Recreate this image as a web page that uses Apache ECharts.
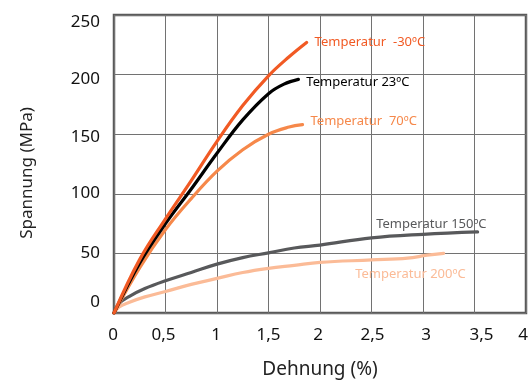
<!DOCTYPE html>
<html>
<head>
<meta charset="utf-8">
<script src="https://cdn.jsdelivr.net/npm/echarts@6/dist/echarts.min.js"></script>
<style>
  html, body { margin: 0; padding: 0; background: #ffffff; }
  #chart { width: 532px; height: 383px; }
</style>
</head>
<body>
<div id="chart"></div>
<script>
// Stress-strain curves of the material at different temperatures
// each point: [Dehnung in %, Spannung in MPa]
const seriesNames = ['Temperatur  -30ºC', 'Temperatur 23ºC', 'Temperatur  70ºC', 'Temperatur 150ºC', 'Temperatur 200ºC'];

const tempMinus30 = [[0, 0], [0.25, 45], [0.5, 79], [0.75, 111], [1.0, 144], [1.25, 174], [1.5, 199], [1.7, 215], [1.87, 227]];
const temp23 = [[0, 0], [0.25, 42], [0.5, 75], [0.75, 104], [1.0, 134], [1.25, 162], [1.5, 184], [1.65, 192], [1.79, 196]];
const temp70 = [[0, 0], [0.25, 38], [0.5, 70], [0.75, 96], [1.0, 119], [1.25, 137], [1.5, 150], [1.7, 156], [1.83, 158]];
const temp150 = [[0, 0], [0.05, 8], [0.15, 14], [0.3, 20.5], [0.5, 27], [0.75, 34], [1.0, 41], [1.25, 46.5], [1.5, 50.5], [1.75, 54.5], [2.0, 57], [2.5, 63], [3.0, 66], [3.53, 68]];
const temp200 = [[0, 0], [0.05, 5], [0.15, 9], [0.3, 13.5], [0.5, 18], [0.75, 24], [1.0, 29], [1.25, 34], [1.5, 37.5], [1.75, 40], [2.0, 42.5], [2.5, 44.5], [2.85, 46], [3.04, 48.5], [3.2, 50]];

// tick values and their printed labels
const xTickValues = [0, 0.5, 1, 1.5, 2, 2.5, 3, 3.5, 4];
const xTickLabels = ['0', '0,5', '1', '1,5', '2', '2,5', '3', '3,5', '4'];
const yTickValues = [0, 50, 100, 150, 200, 250];
const yTickLabels = ['0', '50', '100', '150', '200', '250'];

const colors = ['#f15a24', '#000000', '#f6884a', '#58595b', '#fbbb97'];
const curves = [tempMinus30, temp23, temp70, temp150, temp200];

// where each curve's name sits relative to its end point
const labelPlacement = [
  { align: 'left', offset: [3, 0] },
  { align: 'left', offset: [3, 3] },
  { align: 'left', offset: [3, -3] },
  { align: 'right', offset: [4, -8] },
  { align: 'right', offset: [17, 21] }
];

// small hand nudges of individual tick labels (px)
const yLabelShift = [-11, 0, -1, 3, 5, 7];
const xLabelShift = [-1, -2, -1, 0, -2, 1, 3, 7, -3];

const FONT = 'Noto Sans';
const GRID = { left: 114, right: 6, top: 15, bottom: 70 };

const chart = echarts.init(document.getElementById('chart'), null, { renderer: 'canvas' });

const baseOption = {
  animation: false,
  backgroundColor: '#ffffff',
  grid: Object.assign({
    show: true, borderColor: '#5a5a5a', borderWidth: 2.5, backgroundColor: 'transparent',
    containLabel: false, outerBoundsMode: 'none'
  }, GRID),
  xAxis: {
    type: 'value',
    min: xTickValues[0], max: xTickValues[xTickValues.length - 1], interval: 0.5,
    name: 'Dehnung (%)',
    nameLocation: 'middle',
    nameGap: 47,
    nameTextStyle: { fontFamily: FONT, fontSize: 19, color: '#222222' },
    axisLine: { show: false },
    axisTick: { show: false },
    axisLabel: { show: false },
    splitLine: { show: true, lineStyle: { color: '#727272', width: 1 } }
  },
  yAxis: {
    type: 'value',
    min: yTickValues[0], max: yTickValues[yTickValues.length - 1], interval: 50,
    name: 'Spannung (MPa)',
    nameLocation: 'middle',
    nameGap: 78,
    nameTextStyle: { fontFamily: FONT, fontSize: 17, color: '#222222', padding: [0, 18, 0, 0] },
    axisLine: { show: false },
    axisTick: { show: false },
    axisLabel: { show: false },
    splitLine: { show: true, lineStyle: { color: '#727272', width: 1 } }
  },
  series: curves.map((data, i) => ({
    name: seriesNames[i],
    type: 'line',
    data: data,
    smooth: 0.4,
    showSymbol: false,
    symbol: 'none',
    lineStyle: { color: colors[i], width: 3.2, cap: 'round' },
    itemStyle: { color: colors[i] },
    z: 10 - i,
    endLabel: {
      show: true,
      formatter: seriesNames[i],
      fontFamily: FONT,
      fontSize: 13,
      color: colors[i],
      distance: 5,
      align: labelPlacement[i].align,
      verticalAlign: 'middle',
      offset: labelPlacement[i].offset
    }
  }))
};

chart.setOption(baseOption);

// tick labels placed at the axis positions of their values
const tickTextStyle = { fontFamily: FONT, fontSize: 17, fill: '#111111' };
const plotBottom = chart.convertToPixel({ yAxisIndex: 0 }, yTickValues[0]);
const plotLeft = chart.convertToPixel({ xAxisIndex: 0 }, xTickValues[0]);
const tickLabels = [];
yTickValues.forEach((v, i) => {
  const py = chart.convertToPixel({ yAxisIndex: 0 }, v);
  tickLabels.push({
    type: 'text', x: plotLeft - 14, y: py + yLabelShift[i], silent: true,
    style: Object.assign({ text: yTickLabels[i], align: 'right', verticalAlign: 'middle' }, tickTextStyle)
  });
});
xTickValues.forEach((v, i) => {
  const px = chart.convertToPixel({ xAxisIndex: 0 }, v);
  tickLabels.push({
    type: 'text', x: px + xLabelShift[i], y: plotBottom + 22, silent: true,
    style: Object.assign({ text: xTickLabels[i], align: 'center', verticalAlign: 'middle' }, tickTextStyle)
  });
});
chart.setOption({ graphic: { elements: tickLabels } });
</script>
</body>
</html>
